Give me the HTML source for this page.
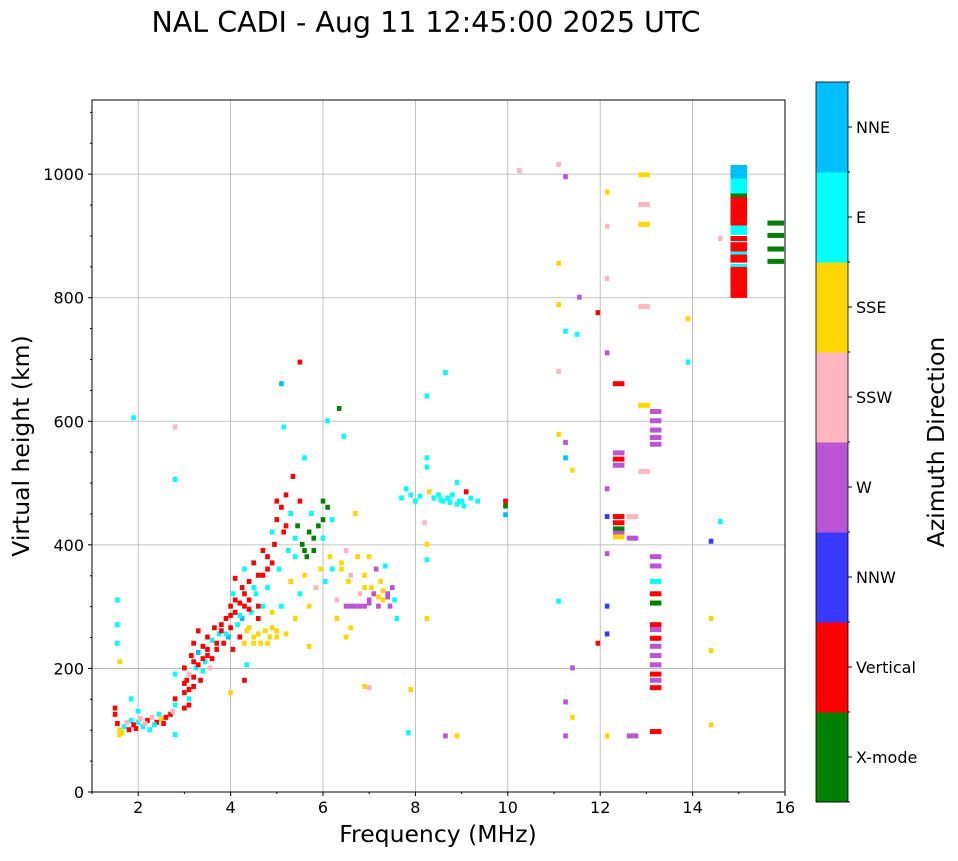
<!DOCTYPE html>
<html><head><meta charset="utf-8"><style>
body{margin:0;background:#fff;font-family:"DejaVu Sans","Liberation Sans",sans-serif}
svg text{font-family:"DejaVu Sans","Liberation Sans",sans-serif}
</style></head><body>
<svg id="c" width="958" height="857" xmlns="http://www.w3.org/2000/svg">
<text x="426" y="32" font-size="28.5" text-anchor="middle">NAL CADI - Aug 11 12:45:00 2025 UTC</text>
<g id="grid"></g><g id="marks"></g><g id="axes"></g><g id="cbar"></g>
<text x="438" y="842" font-size="23.5" text-anchor="middle">Frequency (MHz)</text>
<text transform="translate(29,446) rotate(-90)" font-size="23.5" text-anchor="middle">Virtual height (km)</text>
<text transform="translate(944,442) rotate(-90)" font-size="23.5" text-anchor="middle">Azimuth Direction</text>
</svg>
<script>
const dirLabels=["X-mode","Vertical","NNW","W","SSW","SSE","E","NNE"];
const dirColors=["#008000","#ff0000","#3a3aff","#ba55d3","#ffb6c1","#ffd700","#00ffff","#00bfff"];
const xTicks=[2,4,6,8,10,12,14,16];
const yTicks=[0,200,400,600,800,1000];
const freqs=[
1.5,1.5,1.55,1.6,1.6,1.7,1.75,1.8,1.85,1.9,
2.0,2.05,2.1,2.2,2.25,2.3,2.4,2.45,2.5,2.6,
2.7,2.75,2.8,2.8,1.55,1.55,1.55,1.85,1.9,2.8,
2.8,2.8,2.8,1.6,2.0,2.15,1.65,1.95,2.35,2.55,
3.0,3.0,3.05,3.0,3.1,3.1,3.15,3.2,3.2,3.25,
3.3,3.3,3.35,3.4,3.45,3.5,3.5,3.55,3.6,3.65,
3.7,3.75,3.8,3.85,3.9,3.95,4.0,4.0,4.05,4.05,
4.1,4.1,4.15,4.2,4.2,4.25,4.25,4.3,4.3,4.35,
4.4,4.4,4.45,4.5,4.5,4.55,4.6,4.6,4.65,4.7,
4.7,4.75,4.8,4.8,4.85,4.9,4.9,4.95,5.0,5.0,
3.1,3.2,3.3,3.4,3.5,3.6,3.7,3.8,3.9,4.0,
4.1,4.2,4.3,4.4,4.5,4.6,4.7,4.8,4.9,4.3,
4.4,4.5,4.6,4.8,4.9,5.0,3.0,3.1,3.2,3.4,
5.05,5.1,5.1,5.15,5.2,5.2,5.25,5.3,5.3,5.35,
5.4,5.4,5.45,5.5,5.5,5.55,5.6,5.6,5.65,5.7,
5.7,5.75,5.8,5.85,5.9,5.95,6.0,6.0,6.05,6.1,
6.1,6.15,6.2,6.3,6.35,6.4,6.45,6.5,6.5,6.55,
6.6,6.6,6.7,6.7,6.75,6.8,6.9,6.9,7.0,7.0,
7.05,7.1,7.15,7.2,7.25,7.3,7.35,7.4,7.45,7.5,
7.55,7.6,6.5,5.1,5.15,5.5,6.9,7.0,7.9,7.85,
4.0,4.3,4.35,5.7,5.0,5.2,5.4,5.6,5.8,6.0,
6.2,6.4,6.6,6.8,7.0,7.2,7.3,7.4,6.3,6.9,
7.7,7.8,7.9,8.0,8.1,8.3,8.5,8.6,8.7,8.8,
8.9,9.0,9.1,9.2,9.35,9.95,9.95,9.95,8.25,8.25,
8.25,8.25,8.25,8.25,8.65,8.65,8.9,8.9,8.2,10.25,
8.4,8.55,8.75,8.95,9.05,
11.1,11.1,11.1,11.1,11.1,11.1,11.25,11.25,11.25,11.25,
11.25,11.25,11.4,11.4,11.4,11.5,11.55,11.95,11.95,12.15,
12.15,12.15,12.15,12.15,12.15,12.15,12.15,12.15,12.15,12.4,
12.4,12.4,12.4,12.4,12.4,12.4,12.4,12.4,12.7,12.7,
12.7,12.95,12.95,12.95,12.95,12.95,12.95,
13.2,13.2,13.2,13.2,13.2,13.2,13.2,13.2,13.2,13.2,
13.2,13.2,13.2,13.2,13.2,13.2,13.2,13.2,13.2,13.2,
13.9,13.9,14.4,14.4,14.4,14.4,14.6,14.6,
15,15,15,15,15,15,15,15,15,15,
15,15,15,15,15,15,15.8,15.8,15.8,15.8,
15,15,15,15,15,15,15,15,15,15,
15,15,15];
const heights=[
135,125,110,100,92,105,112,100,115,108,
112,118,105,115,100,120,112,125,118,120,
125,130,140,150,270,310,240,150,605,590,
505,190,92,210,130,110,95,102,108,110,
135,160,180,200,150,190,220,170,240,200,
225,260,180,235,210,250,220,200,245,265,
230,255,270,240,280,250,300,265,320,230,
290,345,270,305,250,330,280,360,300,260,
310,340,290,370,250,320,280,350,240,390,
300,260,380,330,250,420,290,400,440,260,
165,185,205,195,230,215,240,260,255,285,
310,285,320,295,330,300,350,360,370,240,
265,240,255,240,265,250,175,140,210,215,
360,460,300,420,480,255,390,450,340,510,
380,280,430,470,320,400,350,540,380,420,
300,450,390,330,430,360,470,410,340,460,
600,380,440,310,620,370,575,390,300,340,
350,265,300,450,380,320,350,300,310,380,
330,320,360,300,340,310,365,320,300,330,
310,280,250,660,590,695,170,168,165,95,
160,180,205,235,470,430,410,390,410,440,
360,360,300,300,305,315,325,315,280,330,
475,490,480,470,478,485,480,470,475,480,
465,470,485,475,470,470,462,448,640,540,
525,375,400,280,678,90,90,500,435,1005,
475,472,468,470,462,
1015,855,788,680,578,308,995,745,565,540,
145,90,520,200,120,740,800,775,240,970,
915,830,710,490,445,385,300,255,90,548,
538,528,660,445,435,425,418,412,445,410,
90,998,950,918,785,625,518,
615,600,585,573,562,380,365,340,320,305,
270,262,248,235,220,205,190,180,168,97,
765,695,405,280,228,108,437,895,
1010,995,980,965,950,935,920,905,895,885,
870,860,850,840,825,810,920,900,878,858,
1002,988,972,958,942,928,912,878,865,845,
832,818,803];
const dirs=[
1,1,1,5,5,6,4,1,6,1,
6,4,6,1,6,4,1,6,5,1,
1,4,6,1,6,6,6,6,6,4,
6,6,6,5,6,4,5,1,6,1,
1,1,1,1,6,4,1,1,1,6,
7,1,1,1,6,1,1,4,6,1,
1,6,1,1,1,7,1,1,6,1,
1,1,6,1,1,1,7,6,1,5,
1,1,6,1,5,6,1,1,5,1,
6,5,1,6,5,6,5,1,1,5,
1,1,1,6,1,1,1,1,6,1,
1,6,1,1,6,1,1,1,1,5,
5,5,5,5,5,5,1,1,1,1,
6,1,6,1,1,5,6,6,5,1,
6,5,0,1,6,0,5,6,0,0,
5,6,0,4,0,5,0,6,6,0,
6,5,6,4,0,5,6,4,3,5,
4,5,3,5,5,4,5,3,3,5,
5,3,3,3,5,5,6,3,3,3,
6,6,5,7,6,1,5,4,5,6,
5,1,6,5,1,1,6,0,0,0,
6,5,3,3,3,5,5,3,5,5,
6,6,6,6,6,5,6,6,6,6,
6,6,1,6,6,1,0,7,6,6,
6,6,5,5,6,3,5,6,4,4,
6,6,6,6,6,
4,5,5,4,5,6,3,6,3,7,
3,3,5,3,5,6,3,1,1,5,
4,4,3,3,2,3,2,2,5,3,
1,3,1,1,1,0,3,5,4,3,
3,5,4,5,4,5,4,
3,3,3,3,3,3,3,6,1,0,
1,3,1,3,3,3,1,3,1,1,
5,6,2,5,5,5,6,4,
7,7,6,0,1,1,1,6,1,1,
6,1,6,1,1,1,0,0,0,0,
7,6,6,1,1,1,6,1,1,1,
1,1,1];

const NS="http://www.w3.org/2000/svg";
const X0=92,X1=785,Y0=792,Y1=100,FMIN=1,FMAX=16,HMAX=1120;
const xs=f=>X0+(f-FMIN)/(FMAX-FMIN)*(X1-X0);
const ys=h=>Y0-h/HMAX*(Y0-Y1);
function mk(tag,attrs,parent){const e=document.createElementNS(NS,tag);for(const k in attrs)e.setAttribute(k,attrs[k]);parent.appendChild(e);return e;}
const grid=document.getElementById('grid'),axes=document.getElementById('axes'),marks=document.getElementById('marks'),cbar=document.getElementById('cbar');
xTicks.forEach(t=>{const x=xs(t);
 const g=mk('line',{x1:x,x2:x,y1:Y1,y2:Y0,stroke:'#b0b0b0','stroke-width':0.8},grid);
 
 
 mk('line',{x1:x,x2:x,y1:Y0,y2:Y0+4,stroke:'#000'},axes);
 const l=mk('text',{x:x,y:Y0+21,'font-size':16,'text-anchor':'middle'},axes);l.textContent=t;
 
 
});
for(let f=1;f<=16;f++){if(f%2){const x=xs(f);mk('line',{x1:x,x2:x,y1:Y0,y2:Y0+2,stroke:'#000'},axes);}}
yTicks.forEach(t=>{const y=ys(t);
 const g=mk('line',{x1:X0,x2:X1,y1:y,y2:y,stroke:'#b0b0b0','stroke-width':0.8},grid);
 
 
 mk('line',{x1:X0-4,x2:X0,y1:y,y2:y,stroke:'#000'},axes);
 const l=mk('text',{x:X0-8,y:y+6,'font-size':16,'text-anchor':'end'},axes);l.textContent=t;
 
 
});
for(let h=50;h<HMAX;h+=50){if(h%200){const y=ys(h);mk('line',{x1:X0-2,x2:X0,y1:y,y2:y,stroke:'#000'},axes);}}
const fr=mk('rect',{x:X0,y:Y1,width:X1-X0,height:Y0-Y1,fill:'none',stroke:'#000','stroke-width':1},axes);


for(let i=0;i<freqs.length;i++){
 const f=freqs[i],h=heights[i];
 const w=f>=14.9?0.36:(f>=12.3&&f<13.5?0.25:0.1);
 const r=mk('rect',{x:xs(f)-(xs(w)-xs(0))/2,y:ys(h)-3,width:xs(w)-xs(0),height:5,fill:dirColors[dirs[i]]},marks);
 
 
}
const CX=816,CW=32,CT=82,CB=802,bh=(CB-CT)/dirLabels.length;
dirLabels.forEach((lab,i)=>{const y=CB-(i+1)*bh;
 const r=mk('rect',{x:CX,y:y,width:CW,height:bh+0.5,fill:dirColors[i]},cbar);
 
 
 mk('line',{x1:CX+CW,x2:CX+CW+4,y1:y+bh/2,y2:y+bh/2,stroke:'#000'},cbar);
 const t=mk('text',{x:CX+CW+8,y:y+bh/2+6,'font-size':16},cbar);t.textContent=lab;
 
 
});
for(let i=0;i<=dirLabels.length;i++){const y=CT+i*bh;mk('line',{x1:CX+CW,x2:CX+CW+2,y1:y,y2:y,stroke:'#000'},cbar);}
const cf=mk('rect',{x:CX,y:CT,width:CW,height:CB-CT,fill:'none',stroke:'#000','stroke-width':0.8},cbar);


</script>
</body></html>
